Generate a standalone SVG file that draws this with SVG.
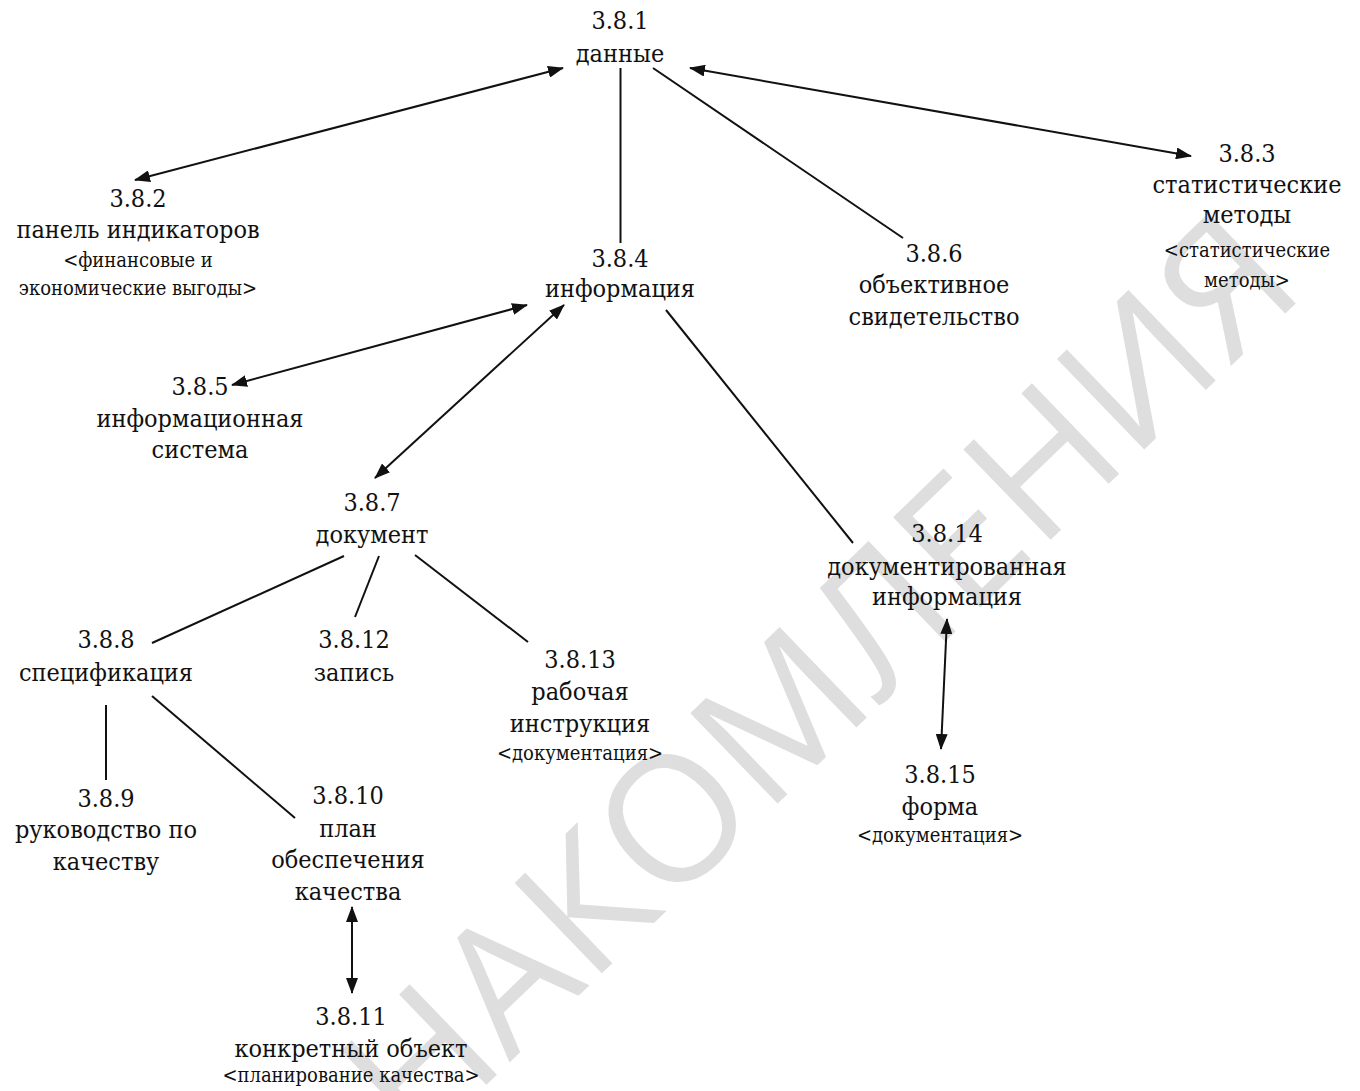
<svg xmlns="http://www.w3.org/2000/svg" width="1360" height="1091" viewBox="0 0 1360 1091">
<style>
text{font-family:"DejaVu Serif Condensed","DejaVu Serif","Liberation Serif",serif;fill:#111;text-anchor:middle}
.t{font-size:25px}
.s{font-size:20px}
.wm{font-family:"Open Sans","Liberation Sans",sans-serif;font-size:176px;font-weight:500;fill:#dedede;text-anchor:middle}
.c line{stroke:#111;stroke-width:2}
.a{marker-start:url(#ah);marker-end:url(#ah)}
</style>
<defs>
<marker id="ah" markerUnits="userSpaceOnUse" markerWidth="16" markerHeight="12" refX="15" refY="6" orient="auto-start-reverse" viewBox="0 0 16 12">
<path d="M0,0 L16,6 L0,12 z" fill="#111"/>
</marker>
</defs>
<rect width="1360" height="1091" fill="#fff"/>
<text class="wm" x="862" y="722" transform="rotate(-44 862 722)">НАКОМЛЕНИЯ</text>
<g class="c" id="connectors">
<line class="a" x1="563" y1="68" x2="135" y2="180"/>
<line x1="620.5" y1="68" x2="620.5" y2="243"/>
<line x1="653" y1="68" x2="903" y2="238"/>
<line class="a" x1="690" y1="68" x2="1191" y2="156"/>
<line class="a" x1="527" y1="305" x2="232" y2="385"/>
<line class="a" x1="564" y1="305" x2="375" y2="478"/>
<line x1="666" y1="310" x2="853" y2="543"/>
<line x1="344" y1="556" x2="152" y2="643"/>
<line x1="379" y1="556" x2="355" y2="617"/>
<line x1="415" y1="555" x2="528" y2="642"/>
<line x1="106" y1="705" x2="106" y2="780"/>
<line x1="152" y1="696" x2="295" y2="818"/>
<line class="a" x1="352" y1="907" x2="352" y2="993"/>
<line class="a" x1="947" y1="619" x2="941" y2="749"/>
</g>
<g id="n381"><text class="t" x="620" y="29">3.8.1</text><text class="t" x="620" y="62">данные</text></g>
<g id="n382"><text class="t" x="138" y="207">3.8.2</text><text class="t" x="138" y="238">панель индикаторов</text><text class="s" x="138" y="267">&lt;финансовые и</text><text class="s" x="138" y="295">экономические выгоды&gt;</text></g>
<g id="n383"><text class="t" x="1247" y="162">3.8.3</text><text class="t" x="1247" y="193">статистические</text><text class="t" x="1247" y="223">методы</text><text class="s" x="1247" y="257">&lt;статистические</text><text class="s" x="1247" y="287">методы&gt;</text></g>
<g id="n384"><text class="t" x="620" y="267">3.8.4</text><text class="t" x="620" y="297">информация</text></g>
<g id="n385"><text class="t" x="200" y="395">3.8.5</text><text class="t" x="200" y="427">информационная</text><text class="t" x="200" y="458">система</text></g>
<g id="n386"><text class="t" x="934" y="262">3.8.6</text><text class="t" x="934" y="293">объективное</text><text class="t" x="934" y="325">свидетельство</text></g>
<g id="n387"><text class="t" x="372" y="511">3.8.7</text><text class="t" x="372" y="543">документ</text></g>
<g id="n388"><text class="t" x="106" y="648">3.8.8</text><text class="t" x="106" y="681">спецификация</text></g>
<g id="n389"><text class="t" x="106" y="807">3.8.9</text><text class="t" x="106" y="838">руководство по</text><text class="t" x="106" y="870">качеству</text></g>
<g id="n3810"><text class="t" x="348" y="804">3.8.10</text><text class="t" x="348" y="837">план</text><text class="t" x="348" y="868">обеспечения</text><text class="t" x="348" y="900">качества</text></g>
<g id="n3811"><text class="t" x="351" y="1025">3.8.11</text><text class="t" x="351" y="1057">конкретный объект</text><text class="s" x="351" y="1082">&lt;планирование качества&gt;</text></g>
<g id="n3812"><text class="t" x="354" y="648">3.8.12</text><text class="t" x="354" y="681">запись</text></g>
<g id="n3813"><text class="t" x="580" y="668">3.8.13</text><text class="t" x="580" y="700">рабочая</text><text class="t" x="580" y="732">инструкция</text><text class="s" x="580" y="760">&lt;документация&gt;</text></g>
<g id="n3814"><text class="t" x="947" y="542">3.8.14</text><text class="t" x="947" y="575">документированная</text><text class="t" x="947" y="605">информация</text></g>
<g id="n3815"><text class="t" x="940" y="783">3.8.15</text><text class="t" x="940" y="815">форма</text><text class="s" x="940" y="842">&lt;документация&gt;</text></g>
</svg>
